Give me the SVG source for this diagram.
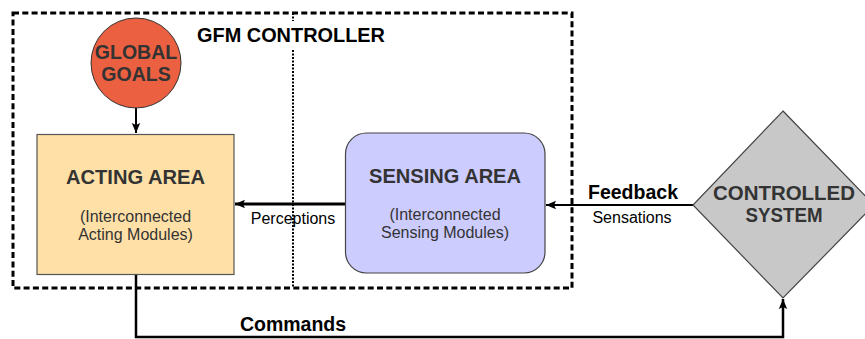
<svg xmlns="http://www.w3.org/2000/svg" width="865" height="339" viewBox="0 0 865 339">
<style>
.b{font-family:"Liberation Sans",Arial,sans-serif;font-weight:bold;text-anchor:middle}
.r{font-family:"Liberation Sans",Arial,sans-serif;text-anchor:middle}
.node{fill:#333}
.lbl{fill:#000}
.sub{fill:#333;font-size:16px}
.conn{fill:none;stroke:#000}
</style>
<defs>
<marker id="ah" markerUnits="userSpaceOnUse" markerWidth="10" markerHeight="10" viewBox="0 0 10 10" refX="10" refY="5" orient="auto">
<path d="M0,0.8 L10,5 L0,9.2 L2,5 Z" fill="#000"/>
</marker>
</defs>
<rect width="865" height="339" fill="#fff"/>
<g id="gfm-controller">
<rect x="13" y="13" width="559" height="275" fill="none" stroke="#000" stroke-width="3" stroke-dasharray="6,3.3"/>
<line x1="293" y1="13" x2="293" y2="21" stroke="#000" stroke-width="2" stroke-dasharray="2,1.5"/>
<line x1="293" y1="50" x2="293" y2="287" stroke="#000" stroke-width="2" stroke-dasharray="2,1.5"/>
<text class="b lbl" x="291" y="42" font-size="19.5" textLength="188" lengthAdjust="spacingAndGlyphs">GFM CONTROLLER</text>
</g>
<g id="connectors">
<line class="conn" x1="136" y1="108" x2="136" y2="133" stroke-width="2" marker-end="url(#ah)"/>
<line class="conn" x1="345" y1="204" x2="235" y2="204" stroke-width="3" marker-end="url(#ah)"/>
<line class="conn" x1="693" y1="205" x2="546" y2="205" stroke-width="2" marker-end="url(#ah)"/>
<polyline class="conn" points="136,274 136,337 783,337 783,299" stroke-width="2.5" marker-end="url(#ah)"/>
<text class="r lbl" x="293" y="224" font-size="16">Perceptions</text>
<text class="b lbl" x="633" y="199" font-size="19.5">Feedback</text>
<text class="r lbl" x="632" y="223" font-size="16">Sensations</text>
<text class="b lbl" x="293" y="331" font-size="19.5">Commands</text>
</g>
<g id="global-goals">
<circle cx="136" cy="63" r="45" fill="#EB6040" stroke="#333" stroke-width="1"/>
<text class="b node" x="136" y="59" font-size="19.5">GLOBAL</text>
<text class="b node" x="136" y="81" font-size="19.5">GOALS</text>
</g>
<g id="acting-area">
<rect x="37" y="134.5" width="197" height="140" fill="#FFE1A8" stroke="#555" stroke-width="1.2"/>
<text class="b node" x="135.5" y="184" font-size="19.5" textLength="139" lengthAdjust="spacingAndGlyphs">ACTING AREA</text>
<text class="r sub" x="135.5" y="221.5">(Interconnected</text>
<text class="r sub" x="135.5" y="239.5">Acting Modules)</text>
</g>
<g id="sensing-area">
<rect x="345.5" y="133" width="199.5" height="140" rx="21" fill="#CCCCFF" stroke="#444" stroke-width="1.2"/>
<text class="b node" x="445" y="183" font-size="19.5" textLength="152" lengthAdjust="spacingAndGlyphs">SENSING AREA</text>
<text class="r sub" x="445" y="220">(Interconnected</text>
<text class="r sub" x="445" y="238">Sensing Modules)</text>
</g>
<g id="controlled-system">
<polygon points="783,111 874,205 783,298 693,205" fill="#C8C8C8" stroke="#444" stroke-width="1.2"/>
<text class="b node" x="784" y="200" font-size="19.5" textLength="142" lengthAdjust="spacingAndGlyphs">CONTROLLED</text>
<text class="b node" x="784" y="222" font-size="19.5" textLength="77" lengthAdjust="spacingAndGlyphs">SYSTEM</text>
</g>
</svg>
